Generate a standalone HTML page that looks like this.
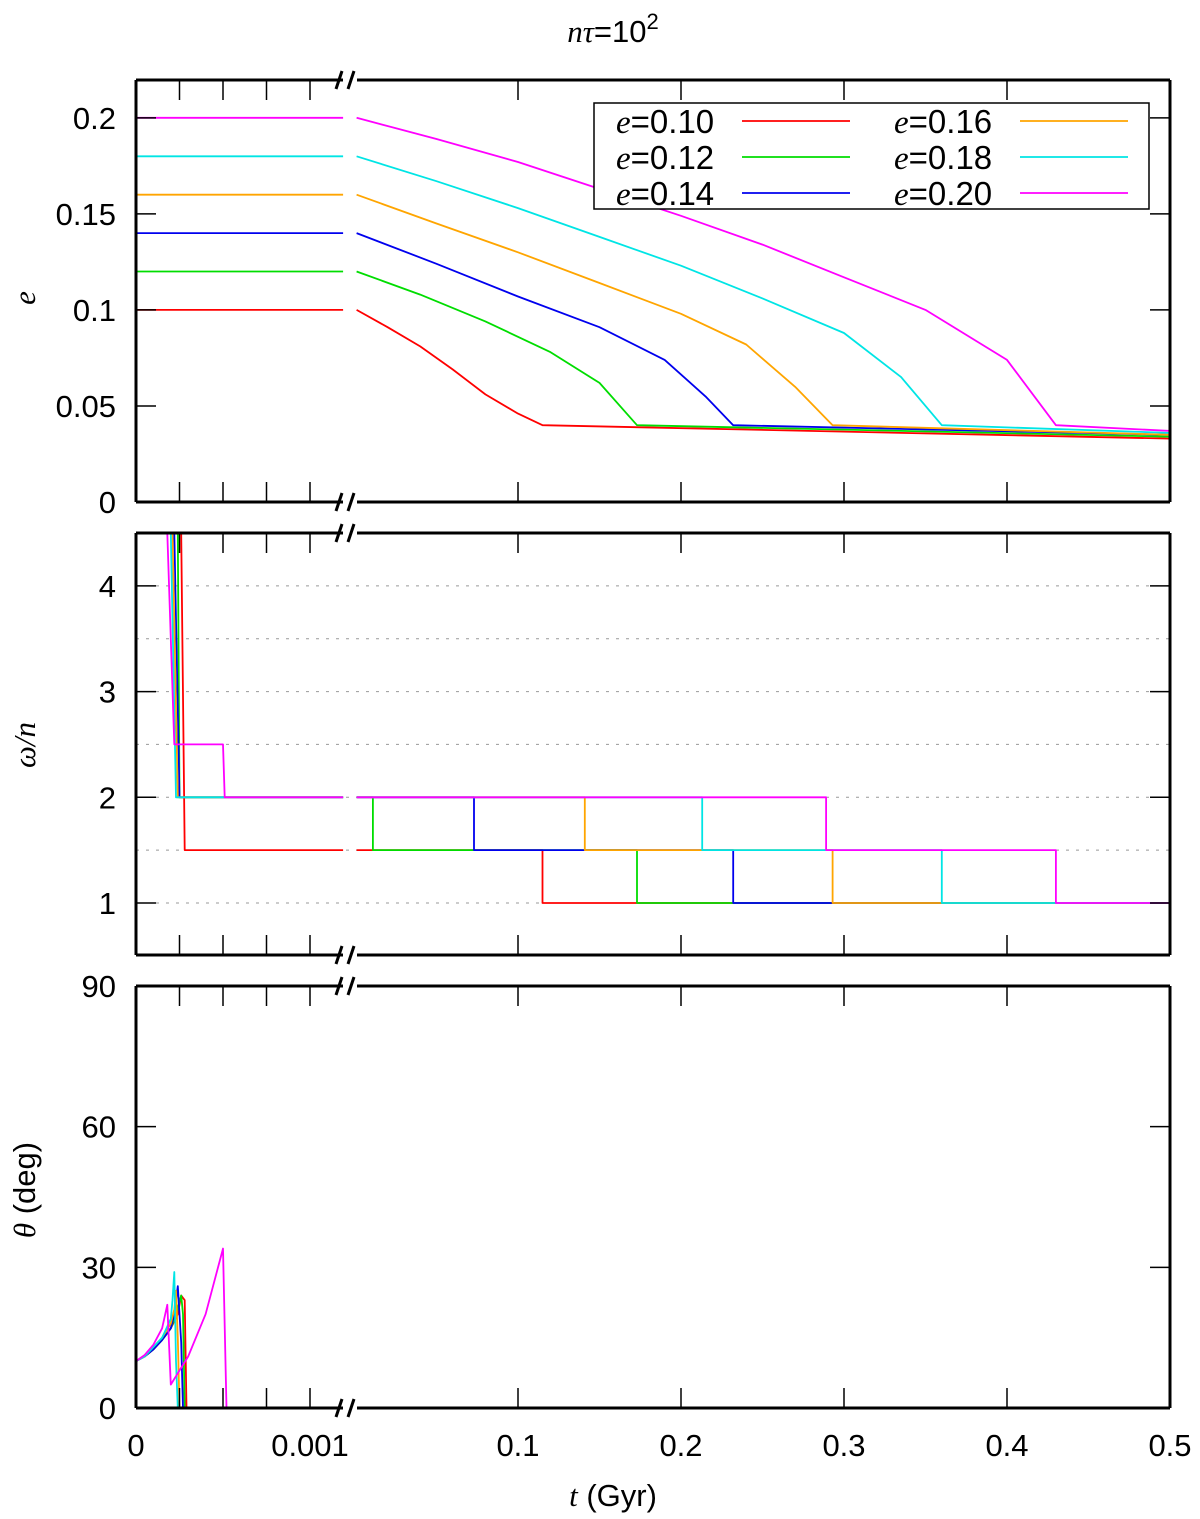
<!DOCTYPE html>
<html><head><meta charset="utf-8"><style>
body{margin:0;background:#fff}
svg{display:block;font-family:"Liberation Sans",sans-serif}
</style></head><body>
<svg id="c" width="1200" height="1519" viewBox="0 0 1200 1519">
<text x="613" y="42" font-size="31" text-anchor="middle"><tspan font-family="Liberation Serif" font-style="italic">nτ</tspan>=10<tspan dy="-13" font-size="22">2</tspan></text>
<g id="g"></g>
</svg>
<script>
// ---------- data ----------
const colors=["#ff0000","#00dd00","#0000ee","#ffa500","#00e5e5","#ff00ff"];
const e0=[0.10,0.12,0.14,0.16,0.18,0.20];
const eTimes=[[0.001,0.02,0.04,0.06,0.08,0.1,0.115,0.5],[0.001,0.04,0.08,0.12,0.15,0.173,0.5],[0.001,0.05,0.10,0.15,0.19,0.215,0.232,0.5],[0.001,0.05,0.10,0.15,0.20,0.24,0.27,0.293,0.5],[0.001,0.05,0.10,0.15,0.20,0.25,0.30,0.335,0.36,0.5],[0.001,0.05,0.10,0.15,0.20,0.25,0.30,0.35,0.40,0.43,0.5]];
const eVals=[[0.10,0.091,0.081,0.069,0.056,0.046,0.040,0.033],[0.12,0.108,0.094,0.078,0.062,0.040,0.034],[0.14,0.124,0.107,0.091,0.074,0.055,0.040,0.035],[0.16,0.145,0.130,0.114,0.098,0.082,0.060,0.040,0.035],[0.18,0.167,0.153,0.138,0.123,0.106,0.088,0.065,0.040,0.036],[0.20,0.189,0.177,0.163,0.149,0.134,0.117,0.100,0.074,0.040,0.037]];
const wDropT=[0.00026,0.00024,0.00022,0.00021,0.0002,0.00018];
const wLandT=[0.00028,0.00025,0.00025,0.00024,0.00023,0.00022];
const wLand=[1.5,2,2,2,2,2.5];
const w15T=[0.001,0.011,0.073,0.141,0.213,0.289];
const w1T=[0.115,0.173,0.232,0.293,0.360,0.430];
const thT=[[0,0.00005,0.0001,0.00015,0.0002,0.00024,0.00026,0.00028,0.00029],[0,0.00005,0.0001,0.00015,0.0002,0.00023,0.00026,0.00027,0.00028],[0,0.00005,0.0001,0.00015,0.0002,0.00022,0.00024,0.00026,0.00027],[0,0.00005,0.0001,0.00015,0.0002,0.00022,0.00023,0.00024,0.00025],[0,0.00005,0.0001,0.00015,0.0002,0.00021,0.00022,0.00023,0.00024],[0,0.00005,0.0001,0.00015,0.00018,0.0002,0.0003,0.0004,0.0005,0.00052]];
const thV=[[10,11,12.5,14.5,17,20,24,23,0],[10,11,12.5,14.5,17,20,24,20,0],[10,11,12.5,14.5,17,20,26,14,0],[10,11,13,15,18,21,25,15,0],[10,11,13,15,19,23,29,10,0],[10,11.3,13.5,17,22,5,11,20,34,0]];
const yTicksE=["0","0.05","0.1","0.15","0.2"];
const yTicksW=["1","2","3","4"];
const yTicksT=["0","30","60","90"];
const xTicksL=["0","0.001"];
const xTicksR=["0.1","0.2","0.3","0.4","0.5"];
// ---------- helpers ----------
const NS="http://www.w3.org/2000/svg",G=document.getElementById("g");
const X0=136,X1=1170,BL=343,BR=357,LEND=0.00119;
function XL(t){return X0+t*174000;}
function XR(t){return 355+t*1630;}
const FS=31;
function mk(tag,at,par){const el=document.createElementNS(NS,tag);for(const k in at)el.setAttribute(k,at[k]);(par||G).appendChild(el);return el;}
const panels=[{top:80,bot:502,min:0,max:0.2197},{top:533,bot:955,min:0.508,max:4.5},{top:986,bot:1408,min:0,max:90}];
function Y(p,v){const P=panels[p];return P.bot-(v-P.min)/(P.max-P.min)*(P.bot-P.top);}
function line(pts,col,name){const el=mk("polyline",{points:pts.map(q=>q[0].toFixed(1)+","+q[1].toFixed(1)).join(" "),fill:"none",stroke:col,"stroke-width":1.8,"stroke-linejoin":"round"});

}
function txt(x,y,s,anchor,name,extra){const el=mk("text",Object.assign({x:x,y:y,"font-size":FS,"text-anchor":anchor},extra||{}));el.textContent=s;

return el;}
// ---------- panel 2 grid ----------
[1,1.5,2,2.5,3,3.5,4].forEach(v=>{const el=mk("line",{x1:X0,x2:X1,y1:Y(1,v),y2:Y(1,v),stroke:"#999","stroke-dasharray":"3,7","stroke-width":1});

});
// ---------- series ----------
for(let i=0;i<6;i++){
  line([[XL(0),Y(0,e0[i])],[XL(LEND),Y(0,e0[i])]],colors[i],"e-left-"+i);
  line(eTimes[i].map((t,k)=>[XR(t),Y(0,eVals[i][k])]),colors[i],"e-right-"+i);
  let L=[[XL(wDropT[i]),Y(1,4.5)],[XL(wLandT[i]),Y(1,wLand[i])]];
  if(i===5){L.push([XL(0.0005),Y(1,2.5)],[XL(0.00051),Y(1,2)],[XL(LEND),Y(1,2)]);}
  else L.push([XL(LEND),Y(1,wLand[i])]);
  line(L,colors[i],"spin-left-"+i);
  let R=[];
  if(i===0){R=[[XR(0.001),Y(1,1.5)],[XR(w1T[0]),Y(1,1.5)],[XR(w1T[0]),Y(1,1)],[XR(0.5),Y(1,1)]];}
  else R=[[XR(0.001),Y(1,2)],[XR(w15T[i]),Y(1,2)],[XR(w15T[i]),Y(1,1.5)],[XR(w1T[i]),Y(1,1.5)],[XR(w1T[i]),Y(1,1)],[XR(0.5),Y(1,1)]];
  line(R,colors[i],"spin-right-"+i);
  line(thT[i].map((t,k)=>[XL(t),Y(2,thV[i][k])]),colors[i],"theta-"+i);
}
// ---------- frames, ticks ----------
const yt=[[yTicksE,[0,0.05,0.1,0.15,0.2]],[yTicksW,[1,2,3,4]],[yTicksT,[0,30,60,90]]];
const axisNames=["e","spin","theta"];
panels.forEach((P,p)=>{
  const fr=[[X0,P.top,X0,P.bot],[X1,P.top,X1,P.bot],[X0,P.top,BL,P.top],[BR,P.top,X1,P.top],[X0,P.bot,BL,P.bot],[BR,P.bot,X1,P.bot]];
  fr.forEach(f=>{const el=mk("line",{x1:f[0],y1:f[1],x2:f[2],y2:f[3],stroke:"#000","stroke-width":3});
  
  });
  [P.top,P.bot].forEach(y=>{[BL-4,BL+8].forEach(x=>{const el=mk("line",{x1:x-3,y1:y+9,x2:x+3,y2:y-9,stroke:"#000","stroke-width":3});
  
  });});
  const xs=[0.00025,0.0005,0.00075,0.001].map(XL).concat([0.1,0.2,0.3,0.4].map(XR));
  xs.forEach(x=>{[[P.top,P.top+20],[P.bot,P.bot-20]].forEach(s=>{const el=mk("line",{x1:x,x2:x,y1:s[0],y2:s[1],stroke:"#000","stroke-width":1.5});
  
  });});
  yt[p][1].forEach((v,k)=>{const y=Y(p,v);
    [[X0,X0+20],[X1,X1-20]].forEach(s=>{const el=mk("line",{x1:s[0],x2:s[1],y1:y,y2:y,stroke:"#000","stroke-width":1.5});
    
    });
    txt(116,y+11,yt[p][0][k],"end",axisNames[p]+"-y-tick-label");});
});
[0,0.001].forEach((t,k)=>txt(XL(t),1456,xTicksL[k],"middle","x-tick-label"));
[0.1,0.2,0.3,0.4,0.5].forEach((t,k)=>txt(XR(t),1456,xTicksR[k],"middle","x-tick-label"));
txt(613,1506,"","middle","x-axis-title").innerHTML='<tspan font-family="Liberation Serif" font-style="italic">t</tspan> (Gyr)';
txt(35,298,"e","middle","e-axis-title",{transform:"rotate(-90 35 298)","font-family":"Liberation Serif","font-style":"italic"});
txt(35,745,"ω/n","middle","spin-axis-title",{transform:"rotate(-90 35 745)","font-family":"Liberation Serif","font-style":"italic"});
txt(35,1190,"","middle","theta-axis-title",{transform:"rotate(-90 35 1190)"}).innerHTML='<tspan font-family="Liberation Serif" font-style="italic">θ</tspan> (deg)';
// legend
const lg=mk("g",{});


const box=mk("rect",{x:594,y:103,width:555,height:106,fill:"#fff",stroke:"#000","stroke-width":1.5},lg);


for(let i=0;i<6;i++){
  const col=Math.floor(i/3),row=i%3,y=121+row*36,x=col?894:616;
  const t=txt(x,y+12,"","start","legend-label",{"font-size":33});
  t.innerHTML='<tspan font-family="Liberation Serif" font-style="italic">e</tspan>='+e0[i].toFixed(2);
  lg.appendChild(t);
  const l=mk("line",{x1:col?1020:742,x2:col?1128:850,y1:y,y2:y,stroke:colors[i],"stroke-width":1.8},lg);
  
  
}
</script>
</body></html>
